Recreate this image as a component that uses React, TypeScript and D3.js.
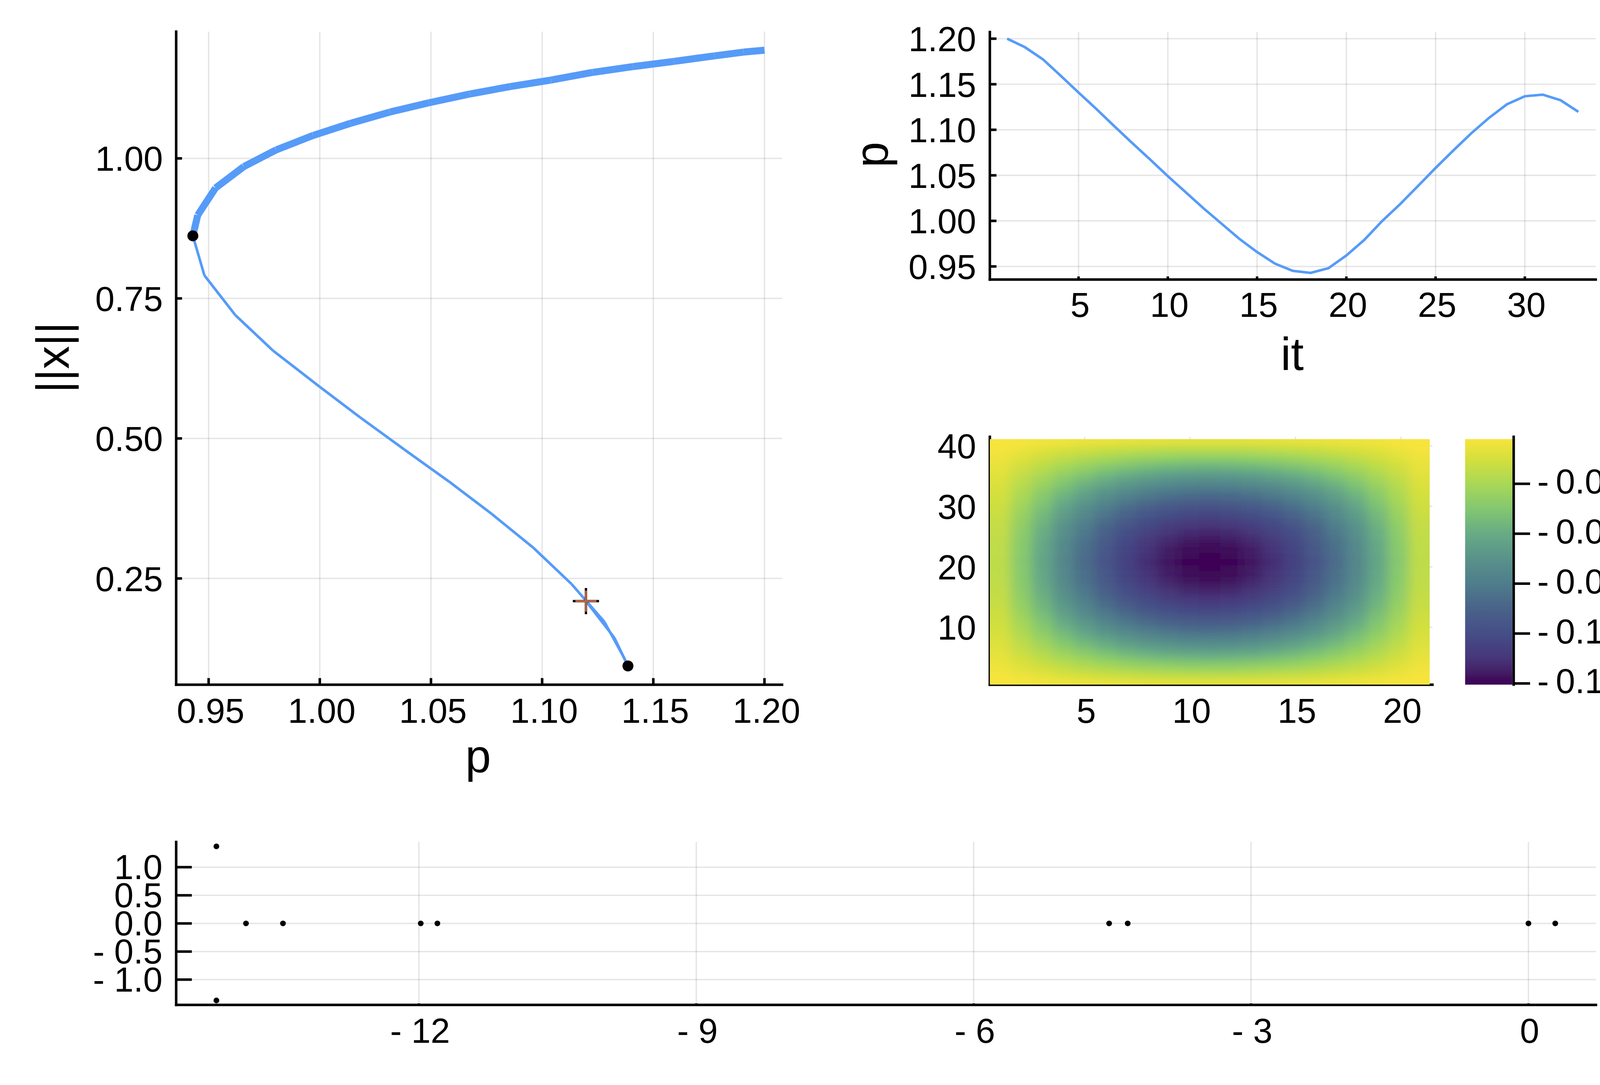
import * as React from 'react';
import * as d3 from 'd3';
import { useRef, useEffect } from 'react';

// continuation run, 33 steps: it 1-18 is the thick branch, 18-33 the thin one
const pValues = [
  1.2, 1.1906, 1.1774, 1.1593, 1.1409, 1.1228, 1.104, 1.0856, 1.0675, 1.0491, 1.0315,
  1.0138, 0.9971, 0.9804, 0.9658, 0.9531, 0.9451, 0.9429, 0.9481, 0.962, 0.979, 0.9997,
  1.0181, 1.038, 1.0581, 1.0774, 1.0962, 1.1132, 1.128, 1.1368, 1.1386, 1.1325, 1.1197,
];
const normValues = [
  1.1932, 1.1898, 1.183, 1.1732, 1.1639, 1.1536, 1.1399, 1.1282, 1.115, 1.0993, 1.0827,
  1.0626, 1.0411, 1.0152, 0.9853, 0.9472, 0.8987, 0.8617, 0.7911, 0.7202, 0.6566, 0.593,
  0.5377, 0.4803, 0.4231, 0.365, 0.3043, 0.2402, 0.1726, 0.1086, 0.0938, 0.144, 0.2096,
];
const foldSteps = [18, 31];
const thickSteps = 18;

// spectrum
const spectrumRe = [-14.19, -14.19, -13.87, -13.47, -11.98, -11.8, -4.535, -4.334, 0, 0.29];
const spectrumIm = [1.37, -1.37, 0, 0, 0, 0, 0, 0, 0, 0];

// solution, depth * 1e4 for the lower-left quarter (rows 1-21, columns 1-11), the rest mirrors it
const heatDepth = [
  [26, 33, 43, 54, 63, 72, 80, 86, 90, 93, 94],
  [30, 54, 79, 103, 123, 142, 158, 170, 180, 185, 187],
  [42, 81, 117, 153, 184, 212, 236, 254, 268, 276, 279],
  [56, 107, 155, 204, 244, 281, 313, 337, 355, 366, 370],
  [69, 133, 192, 252, 302, 348, 387, 417, 440, 453, 458],
  [82, 158, 229, 300, 360, 414, 461, 496, 523, 540, 545],
  [94, 182, 264, 345, 414, 477, 531, 571, 603, 622, 628],
  [106, 205, 297, 389, 467, 537, 597, 643, 679, 700, 707],
  [117, 227, 328, 430, 516, 594, 661, 712, 751, 774, 782],
  [128, 247, 358, 469, 563, 648, 721, 776, 819, 844, 853],
  [138, 267, 386, 506, 607, 699, 777, 837, 883, 911, 920],
  [147, 284, 412, 540, 647, 746, 829, 893, 942, 971, 981],
  [156, 301, 436, 570, 684, 788, 876, 944, 996, 1027, 1037],
  [163, 315, 457, 598, 717, 826, 919, 989, 1044, 1076, 1087],
  [170, 328, 475, 622, 746, 860, 956, 1029, 1086, 1120, 1131],
  [175, 339, 491, 642, 771, 888, 987, 1063, 1121, 1156, 1168],
  [180, 348, 504, 660, 792, 912, 1014, 1092, 1152, 1188, 1200],
  [184, 355, 514, 673, 808, 930, 1034, 1114, 1175, 1212, 1224],
  [186, 360, 521, 683, 819, 943, 1049, 1129, 1191, 1229, 1241],
  [188, 363, 525, 688, 826, 951, 1057, 1138, 1201, 1238, 1251],
  [189, 365, 528, 692, 830, 956, 1062, 1145, 1207, 1245, 1256],
];
const heatRows = 41;
const heatCols = 21;

const mainXTicks = [0.95, 1, 1.05, 1.1, 1.15, 1.2];
const mainYTicks = [0.25, 0.5, 0.75, 1];
const iterXTicks = [5, 10, 15, 20, 25, 30];
const iterYTicks = [0.95, 1, 1.05, 1.1, 1.15, 1.2];
const heatXTicks = [5, 10, 15, 20];
const heatYTicks = [10, 20, 30, 40];
const barTicks = [-0.025, -0.05, -0.075, -0.1, -0.125];
const specXTicks = [-12, -9, -6, -3, 0];
const specYTicks = [-1, -0.5, 0, 0.5, 1];

// the reference's washed out viridis
const colorValues = [-0.1258, -0.1235, -0.12, -0.1125, -0.1, -0.0875, -0.075, -0.0625, -0.05, -0.0375, -0.025, -0.012, -0.0026];
const colorStops = ['#3d0355', '#3e0958', '#431c63', '#46367a', '#454e87', '#496389', '#4f7d8c', '#59928a', '#67ab85', '#83c770', '#a9d856', '#d6e03c', '#f7e43c'];

const FONT = '"Liberation Sans", Arial, Helvetica, sans-serif';
const BLUE = '#569bf8';
const TICK_SIZE = 89;
const LABEL_SIZE = 118;

// minus is drawn as "- " in the reference
const minus = (s: string, neg: boolean) => (neg ? `- ${s}` : s);

interface AxisProps {
  axis: any;
  tx?: number;
  ty?: number;
  textX: number;
  textY: number;
  anchor: string;
  tickWidth?: number;
  wordSpacing?: number;
}

const Axis: React.FC<AxisProps> = ({ axis, tx = 0, ty = 0, textX, textY, anchor, tickWidth = 6.5, wordSpacing = 0 }) => {
  const ref = useRef<SVGGElement>(null);
  useEffect(() => {
    if (!ref.current) return;
    const g = d3.select(ref.current);
    g.call(axis);
    g.attr('font-family', FONT).attr('font-size', TICK_SIZE);
    g.select('.domain').attr('stroke-width', 6.5).attr('stroke-linecap', 'square');
    g.selectAll('.tick line').attr('stroke-width', tickWidth);
    g.selectAll('.tick text')
      .attr('x', textX)
      .attr('y', textY)
      .attr('dy', 0)
      .attr('text-anchor', anchor)
      .attr('word-spacing', wordSpacing)
      .attr('fill', '#000');
  }, [axis, textX, textY, anchor, tickWidth, wordSpacing]);
  return <g ref={ref} transform={`translate(${tx},${ty})`} />;
};

const Grid: React.FC<{ x: any; y: any; xTicks: number[]; yTicks: number[] }> = ({ x, y, xTicks, yTicks }) => {
  const [x0, x1] = x.range();
  const [y0, y1] = y.range();
  return (
    <g stroke="#000" strokeOpacity={0.1} strokeWidth={3.5}>
      {xTicks.map((t) => (
        <line key={t} x1={x(t)} x2={x(t)} y1={y0} y2={y1} />
      ))}
      {yTicks.map((t) => (
        <line key={t} x1={x0} x2={x1} y1={y(t)} y2={y(t)} />
      ))}
    </g>
  );
};

const Label: React.FC<{ x: number; y: number; rotate?: boolean; children: string }> = ({ x, y, rotate, children }) => (
  <text
    x={x}
    y={y}
    textAnchor="middle"
    fontFamily={FONT}
    fontSize={LABEL_SIZE}
    transform={rotate ? `rotate(-90 ${x} ${y})` : undefined}
  >
    {children}
  </text>
);

const App: React.FC = () => {
  // branch plot
  const mainX = d3.scaleLinear().domain([0.9354, 1.2079]).range([451, 2002]);
  const mainY = d3.scaleLinear().domain([0.0603, 1.2263]).range([1752.5, 81]);
  const mainLine = d3.line<number>().x((d) => mainX(pValues[d])).y((d) => mainY(normValues[d]));
  const segments = d3.range(pValues.length - 1);
  const last = pValues.length - 1;
  const crossX = mainX(pValues[last]);
  const crossY = mainY(normValues[last]);

  // p against iteration
  const iterX = d3.scaleLinear().domain([0.03, 33.97]).range([2534, 4085]);
  const iterY = d3.scaleLinear().domain([0.9356, 1.2073]).range([715.5, 82]);
  const iterLine = d3.line<number>().x((d, i) => iterX(i + 1)).y((d) => iterY(d));

  // heatmap, the image stops a little short of the axis limits
  const heatX = d3.scaleLinear().domain([0.5, 21.5]).range([2534, 3667]);
  const heatY = d3.scaleLinear().domain([0.5, 41.5]).range([1752.5, 1118]);
  const cellX = d3.scaleLinear().domain([0.5, 21.5]).range([2534, 3660]);
  const cellY = d3.scaleLinear().domain([0.5, 41.5]).range([1752.3, 1124]);
  const color = d3.scaleLinear<string>().domain(colorValues).range(colorStops).interpolate(d3.interpolateRgb);
  const cells: { r: number; c: number; v: number }[] = [];
  for (let r = 1; r <= heatRows; r++) {
    for (let c = 1; c <= heatCols; c++) {
      const k = Math.min(r, heatRows + 1 - r);
      const j = Math.min(c, heatCols + 1 - c);
      cells.push({ r, c, v: -heatDepth[k - 1][j - 1] / 1e4 });
    }
  }
  const bleed = 70;
  const heatLeft = cellX(0.5);
  const heatRight = cellX(21.5);
  const heatBottom = cellY(0.5);
  const heatTop = cellY(41.5);

  // colorbar
  const barY = d3.scaleLinear().domain([-0.1256, -0.00144]).range([1752.3, 1118]);
  const vExtent = d3.extent(cells, (d) => d.v) as [number, number];

  // spectrum
  const specX = d3.scaleLinear().domain([-14.625, 0.73]).range([451, 4085.6]);
  const specY = d3.scaleLinear().domain([-1.449, 1.448]).range([2572, 2155]);

  return (
    <svg width={4166} height={2777} style={{ position: 'absolute', left: 0, top: 0, display: 'block' }}>
      <rect width={4166} height={2777} fill="#fff" />
      <defs>
        <clipPath id="heat-clip">
          <rect x={heatLeft} y={heatTop} width={heatRight - heatLeft} height={heatBottom - heatTop} />
        </clipPath>
        <filter
          id="heat-blur"
          filterUnits="userSpaceOnUse"
          x={heatLeft - bleed}
          y={heatTop - bleed}
          width={heatRight - heatLeft + 2 * bleed}
          height={heatBottom - heatTop + 2 * bleed}
        >
          <feGaussianBlur stdDeviation="15 6" />
        </filter>
        <linearGradient id="bar-grad" x1={0} y1={1} x2={0} y2={0}>
          {colorValues.map((v, i) => (
            <stop
              key={v}
              offset={(v - colorValues[0]) / (colorValues[colorValues.length - 1] - colorValues[0])}
              stopColor={colorStops[i]}
            />
          ))}
        </linearGradient>
      </defs>

      {/* branch plot */}
      <Grid x={mainX} y={mainY} xTicks={mainXTicks} yTicks={mainYTicks} />
      <Axis
        axis={d3.axisBottom(mainX).tickValues(mainXTicks).tickFormat(d3.format('.2f') as any).tickSize(-17).tickSizeOuter(0).offset(0)}
        ty={1752.5}
        textX={5}
        textY={97.5}
        anchor="middle"
      />
      <Axis
        axis={d3.axisLeft(mainY).tickValues(mainYTicks).tickFormat(d3.format('.2f') as any).tickSize(-15).tickSizeOuter(0).offset(0)}
        tx={451}
        textX={-34}
        textY={32}
        anchor="end"
      />
      <g fill="none" stroke={BLUE}>
        {segments.map((i) => (
          <path key={i} d={mainLine([i, i + 1]) || ''} strokeWidth={i < thickSteps - 1 ? 18 : 6.7} />
        ))}
      </g>
      {foldSteps.map((s) => (
        <circle key={s} cx={mainX(pValues[s - 1])} cy={mainY(normValues[s - 1])} r={14} fill="#000" />
      ))}
      <g>
        <path
          d={`M${crossX - 33.5},${crossY}H${crossX + 33.5}M${crossX},${crossY - 33.5}V${crossY + 33.5}`}
          stroke="#000"
          strokeWidth={6}
          fill="none"
        />
        <path
          d={`M${crossX - 27},${crossY}H${crossX + 27}M${crossX},${crossY - 27}V${crossY + 27}`}
          stroke="#c76b44"
          strokeWidth={4.6}
          fill="none"
        />
      </g>
      <Label x={1224} y={1976}>p</Label>
      <Label x={176} y={915} rotate>||x||</Label>

      {/* p against it */}
      <Grid x={iterX} y={iterY} xTicks={iterXTicks} yTicks={iterYTicks} />
      <Axis
        axis={d3.axisBottom(iterX).tickValues(iterXTicks).tickFormat(d3.format('d') as any).tickSize(-8).tickSizeOuter(0).offset(0)}
        ty={715.5}
        textX={4}
        textY={95.5}
        anchor="middle"
      />
      <Axis
        axis={d3.axisLeft(iterY).tickValues(iterYTicks).tickFormat(d3.format('.2f') as any).tickSize(-17).tickSizeOuter(0).offset(0)}
        tx={2534}
        textX={-35}
        textY={32}
        anchor="end"
      />
      <path d={iterLine(pValues) || ''} fill="none" stroke={BLUE} strokeWidth={6.5} />
      <Label x={3308} y={947}>it</Label>
      <Label x={2272} y={396} rotate>p</Label>

      {/* heatmap */}
      <Grid x={heatX} y={heatY} xTicks={heatXTicks} yTicks={heatYTicks} />
      <Axis
        axis={d3.axisBottom(heatX).tickValues(heatXTicks).tickFormat(d3.format('d') as any).tickSize(-8).tickSizeOuter(0).offset(0)}
        ty={1752.5}
        textX={4}
        textY={97.5}
        anchor="middle"
      />
      <Axis
        axis={d3.axisLeft(heatY).tickValues(heatYTicks).tickFormat(d3.format('d') as any).tickSize(-8).tickSizeOuter(0).offset(0)}
        tx={2534}
        textX={-35}
        textY={32}
        anchor="end"
      />
      <g clipPath="url(#heat-clip)">
        <g filter="url(#heat-blur)">
          {cells.map(({ r, c, v }) => {
            const x0 = c === 1 ? heatLeft - bleed : cellX(c - 0.5);
            const x1 = c === heatCols ? heatRight + bleed : cellX(c + 0.5);
            const y0 = r === heatRows ? heatTop - bleed : cellY(r + 0.5);
            const y1 = r === 1 ? heatBottom + bleed : cellY(r - 0.5);
            return <rect key={`${r}-${c}`} x={x0} y={y0} width={x1 - x0 + 0.6} height={y1 - y0 + 0.6} fill={color(v)} />;
          })}
        </g>
      </g>

      {/* colorbar */}
      <rect
        x={3750.7}
        y={barY(vExtent[1])}
        width={121}
        height={barY(vExtent[0]) - barY(vExtent[1])}
        fill="url(#bar-grad)"
      />
      <Axis
        axis={d3
          .axisRight(barY)
          .tickValues(barTicks)
          .tickFormat(((d: number) => minus(d3.format('.3f')(Math.abs(d)), d < 0)) as any)
          .tickSize(42)
          .tickSizeOuter(0)
          .offset(0)}
        tx={3875}
        textX={60.4}
        textY={25}
        anchor="start"
        wordSpacing={-7}
      />

      {/* spectrum */}
      <Grid x={specX} y={specY} xTicks={specXTicks} yTicks={specYTicks} />
      <Axis
        axis={d3
          .axisBottom(specX)
          .tickValues(specXTicks)
          .tickFormat(((d: number) => minus(String(Math.abs(d)), d < 0)) as any)
          .tickSize(-4)
          .tickSizeOuter(0)
          .offset(0)}
        ty={2572}
        textX={3}
        textY={97}
        anchor="middle"
      />
      <Axis
        axis={d3
          .axisLeft(specY)
          .tickValues(specYTicks)
          .tickFormat(((d: number) => minus(d3.format('.1f')(Math.abs(d)), d < 0)) as any)
          .tickSize(-40)
          .tickSizeOuter(0)
          .offset(0)}
        tx={451}
        textX={-35}
        textY={31}
        anchor="end"
      />
      {spectrumRe.map((d, i) => (
        <circle key={i} cx={specX(d)} cy={specY(spectrumIm[i])} r={7.3} fill="#000" />
      ))}
    </svg>
  );
};

export default App;
